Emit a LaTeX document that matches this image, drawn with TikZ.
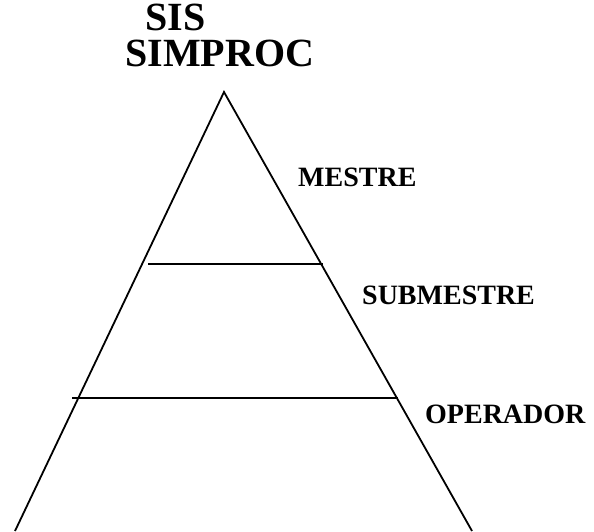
\documentclass[tikz,border=0pt]{standalone}
\usepackage{fontspec}
\setmainfont{Liberation Serif}
\usepackage{tikz}
\usetikzlibrary{positioning,calc}
\tikzset{
  title/.style={font=\fontsize{40}{44}\selectfont\bfseries,inner sep=0pt,anchor=west},
  level/.style={font=\fontsize{28}{32}\selectfont\bfseries,inner sep=0pt,anchor=west},
  side/.style={line width=1.8pt,draw=black},
  divider/.style={line width=1.8pt,draw=black}
}

\begin{document}
\begin{tikzpicture}[x=1pt,y=-1pt]
  \useasboundingbox (0,0) rectangle (594,531);
  % pyramid
  \coordinate (apex) at (224,92);
  \coordinate (baseL) at (15,531);
  \coordinate (baseR) at (472,531);
  \draw[side] (baseL) -- (apex) -- (baseR);
  % levels
  \coordinate (upL) at (148,264);
  \coordinate (upR) at (323,264);
  \coordinate (lowL) at (72,398);
  \coordinate (lowR) at (398,398);
  \draw[divider] (upL) -- (upR);
  \draw[divider] (lowL) -- (lowR);
  % labels
  \node[title] (sis) at (145,17) {SIS};
  \node[title] (simproc) at (125,53) {SIMPROC};
  \node[level] (mestre) at (298,177) {MESTRE};
  \node[level] (submestre) at (362,295) {SUBMESTRE};
  \node[level] (operador) at (425,414) {OPERADOR};
\end{tikzpicture}
\end{document}
